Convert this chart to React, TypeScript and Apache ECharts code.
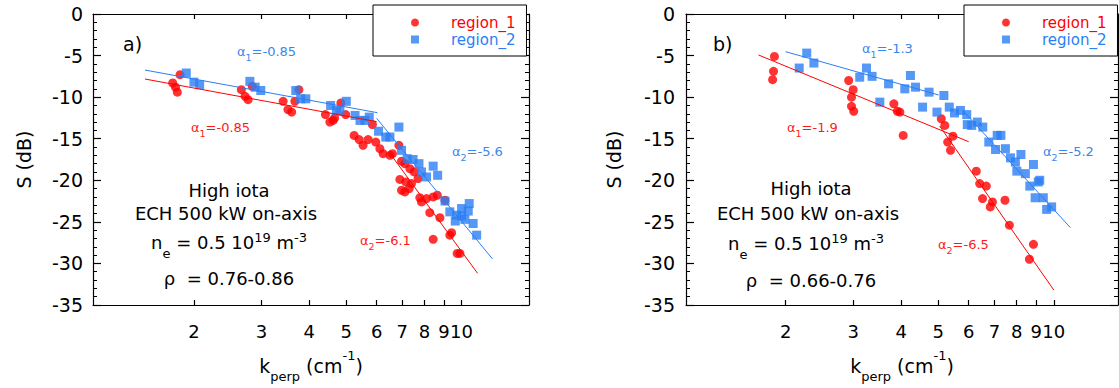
import React, { useEffect, useRef } from 'react';
import * as echarts from 'echarts';

const RED = '#ff0000';
const BLUE = '#2a7ef4';
const RED_TXT = '#ff1a1a';
const BLUE_TXT = '#3a86f0';
const FONT = 'DejaVu Sans';

// axis ticks / ranges
const kTicks = [2, 3, 4, 5, 6, 7, 8, 9, 10];
const kRangeA = [1.09, 15];
const kRangeB = [1.1, 14.7];
const sMin = -35;
const sMax = 0;
const sStep = 5;

// panel a) data: [k_perp (cm^-1), S (dB)]
const region1A = [
  [1.76, -8.3], [1.79, -8.8], [1.81, -9.4], [1.84, -7.3],
  [2.66, -9.1], [2.72, -9.9], [2.77, -10.3], [2.84, -8.7],
  [3.42, -10.5], [3.52, -11.5], [3.6, -11.8], [3.67, -10.5], [3.76, -9.1],
  [4.41, -12.1], [4.53, -13.0], [4.62, -12.8], [4.66, -12.5], [4.84, -10.7], [4.98, -12.1],
  [5.24, -14.6], [5.4, -15.1], [5.53, -15.8], [5.7, -15.1], [5.85, -13.3], [5.97, -15.4],
  [6.12, -16.2], [6.24, -16.8], [6.5, -17.0], [6.6, -16.8], [6.86, -15.8], [6.97, -17.7], [7.11, -18.0],
  [7.33, -18.6], [7.52, -19.0], [7.7, -19.8], [6.9, -19.9], [7.15, -20.2], [7.3, -21.0], [6.97, -21.2],
  [7.11, -21.4], [7.4, -20.4], [7.78, -22.1], [7.86, -22.6], [8.1, -22.2], [8.43, -22.0], [8.64, -21.8],
  [9.05, -22.4], [8.26, -23.9], [8.78, -24.5], [8.43, -27.1], [9.32, -26.6], [9.42, -26.3],
  [9.74, -28.8], [9.9, -28.8],
];
const region2A = [
  [1.91, -7.1], [2.0, -8.2], [2.07, -8.5],
  [2.8, -8.1], [2.89, -8.8], [2.99, -9.2],
  [3.69, -9.2], [3.8, -10.2], [3.92, -10.2],
  [4.55, -11.0], [4.71, -11.6], [4.81, -11.7], [5.0, -10.5],
  [5.27, -12.2], [5.43, -12.8], [5.59, -12.8], [5.74, -12.4],
  [6.07, -14.1], [6.34, -14.8], [6.5, -14.8], [6.86, -13.6],
  [6.97, -16.4], [7.21, -17.4], [7.47, -17.5], [7.74, -18.0], [7.86, -19.0], [8.43, -18.3],
  [8.1, -19.6], [8.66, -19.4],
  [9.05, -22.5], [9.32, -23.8], [9.71, -24.2], [9.63, -24.9], [10.0, -24.3], [10.0, -23.4],
  [10.2, -24.7], [10.47, -22.8], [10.41, -23.7], [10.72, -25.2], [10.95, -26.6],
];
const fitRed1A = [[1.49, -7.82], [6.0, -12.95]];
const fitRed2A = [[6.5, -16.76], [11.01, -31.19]];
const fitBlue1A = [[1.49, -6.74], [6.03, -11.87]];
const fitBlue2A = [[6.0, -12.55], [12.05, -29.47]];

// panel b) data
const region1B = [
  [1.87, -5.1], [1.86, -6.9], [1.85, -7.9],
  [2.92, -8.0], [3.0, -9.1], [2.97, -10.0], [2.97, -11.1], [3.01, -11.7],
  [3.83, -10.8], [3.91, -11.7], [3.97, -11.8], [4.05, -14.6],
  [5.09, -12.6], [5.2, -13.4], [5.46, -14.7], [5.29, -15.4], [5.38, -16.4],
  [6.28, -18.9], [6.41, -20.4], [6.67, -20.7], [6.52, -22.2], [6.83, -23.2], [6.92, -22.6],
  [7.46, -22.4], [7.66, -25.4], [8.85, -27.7], [8.64, -29.5],
];
const region2B = [
  [2.27, -4.7], [2.17, -6.5], [2.37, -5.9],
  [3.12, -7.6], [3.25, -6.5], [3.36, -7.5], [3.52, -10.6], [3.71, -8.4],
  [4.09, -9.0], [4.23, -7.4], [4.36, -8.8], [4.55, -11.2], [4.73, -9.4],
  [5.17, -9.8], [4.96, -11.8], [5.34, -11.2], [5.51, -11.9], [5.71, -11.6], [5.93, -12.1],
  [5.95, -13.3], [6.11, -13.4], [6.32, -13.0], [6.53, -13.6], [6.77, -15.4], [7.05, -16.3],
  [7.12, -14.6], [7.28, -14.6], [7.48, -16.2], [7.71, -17.3], [8.21, -16.9], [7.94, -17.8],
  [8.01, -18.9], [8.43, -19.2], [8.85, -18.1], [8.66, -20.7], [9.11, -20.2], [9.19, -20.0],
  [8.94, -22.1], [9.39, -22.1], [9.58, -23.5], [9.87, -23.2],
];
const fitRed1B = [[1.7, -4.93], [6.0, -15.36]];
const fitRed2B = [[5.04, -13.47], [10.0, -33.2]];
const fitBlue1B = [[2.0, -4.53], [5.01, -9.74]];
const fitBlue2B = [[5.83, -11.75], [11.05, -25.7]];

// text
const alphaA = ['-0.85', '-0.85', '-5.6', '-6.1'];
const alphaB = ['-1.3', '-1.9', '-5.2', '-6.5'];
const rhoA = '0.76-0.86';
const rhoB = '0.66-0.76';

const lg = (v: number) => Math.log10(v);
const toXY = (pts: number[][]) => pts.map(([k, s]) => [lg(k), s]);

const axisLineStyle = { color: '#000', width: 1.2 };

function xAxes(gridIndex: number, range: number[]) {
  const tickVals = kTicks.map(lg);
  const base = {
    gridIndex,
    type: 'value',
    min: lg(range[0]),
    max: lg(range[1]),
    splitLine: { show: false },
    axisLine: { show: true, onZero: false, lineStyle: axisLineStyle },
    axisTick: { show: true, inside: true, length: 5, customValues: tickVals, lineStyle: axisLineStyle },
  };
  return [
    {
      ...base,
      position: 'bottom',
      axisLabel: {
        customValues: tickVals,
        formatter: (v: number) => String(Math.round(Math.pow(10, v))),
        margin: 17,
        fontSize: 18,
        fontFamily: FONT,
        color: '#000',
      },
      name: '{m|k}{s|perp}{m| (cm}{p|-1}{m|)}',
      nameLocation: 'middle',
      nameGap: 44,
      nameTextStyle: {
        color: '#000',
        fontFamily: FONT,
        rich: {
          m: { fontSize: 19, lineHeight: 34, fontFamily: FONT, color: '#000' },
          s: { fontSize: 13, lineHeight: 13, verticalAlign: 'bottom', fontFamily: FONT, color: '#000' },
          p: { fontSize: 13, lineHeight: 24, verticalAlign: 'top', fontFamily: FONT, color: '#000' },
        },
      },
    },
    { ...base, position: 'top', axisLabel: { show: false } },
  ];
}

function yAxes(gridIndex: number, labelMargin: number, nameGap: number) {
  const base = {
    gridIndex,
    type: 'value',
    min: sMin,
    max: sMax,
    interval: sStep,
    splitLine: { show: false },
    axisLine: { show: true, onZero: false, lineStyle: axisLineStyle },
    axisTick: { show: true, inside: true, length: 8, lineStyle: axisLineStyle },
    minorTick: { show: true, splitNumber: 5, length: 4, lineStyle: { color: '#000', width: 1 } },
  };
  return [
    {
      ...base,
      position: 'left',
      axisLabel: { margin: labelMargin, fontSize: 19, fontFamily: FONT, color: '#000' },
      name: 'S (dB)',
      nameLocation: 'middle',
      nameGap,
      nameTextStyle: { fontSize: 19, fontFamily: FONT, color: '#000' },
    },
    { ...base, position: 'right', axisLabel: { show: false } },
  ];
}

function panelSeries(axisIndex: number, r1: number[][], r2: number[][], fits: [number[][], string][]) {
  const out: any[] = [
    {
      name: 'region_1',
      type: 'scatter',
      xAxisIndex: axisIndex,
      yAxisIndex: axisIndex,
      symbol: 'circle',
      symbolSize: 9,
      itemStyle: { color: RED },
      data: toXY(r1),
      z: 2,
    },
    {
      name: 'region_2',
      type: 'scatter',
      xAxisIndex: axisIndex,
      yAxisIndex: axisIndex,
      symbol: 'rect',
      symbolSize: 9,
      itemStyle: { color: BLUE },
      data: toXY(r2),
      z: 2,
    },
  ];
  fits.forEach(([pts, color]) => {
    out.push({
      type: 'line',
      xAxisIndex: axisIndex,
      yAxisIndex: axisIndex,
      symbol: 'none',
      showSymbol: false,
      silent: true,
      lineStyle: { color, width: 1 },
      data: toXY(pts),
      z: 3,
    });
  });
  return out;
}

function legendBox(left: number) {
  return {
    left,
    top: 5,
    orient: 'vertical',
    padding: [9, 11, 8, 38],
    itemGap: 0,
    itemWidth: 8,
    itemHeight: 8,
    backgroundColor: '#fff',
    borderColor: '#000',
    borderWidth: 1,
    z: 10,
    selectedMode: false,
    textStyle: { fontFamily: FONT, fontSize: 15, lineHeight: 17, padding: [0, 0, 0, 27] },
    data: [
      { name: 'region_1', textStyle: { color: RED, fontFamily: FONT, fontSize: 15, lineHeight: 17, padding: [0, 0, 0, 27] } },
      { name: 'region_2', textStyle: { color: BLUE, fontFamily: FONT, fontSize: 15, lineHeight: 17, padding: [0, 0, 0, 27] } },
    ],
  };
}

const alphaRich = {
  a: { fontSize: 13, lineHeight: 22, fontFamily: FONT },
  s: { fontSize: 9.5, lineHeight: 9.5, verticalAlign: 'bottom', fontFamily: FONT },
};
const blockRich = {
  t: { fontSize: 18, lineHeight: 30, fontFamily: FONT },
  sb: { fontSize: 13, padding: [22, 0, 0, 0], fontFamily: FONT },
  sp: { fontSize: 13, padding: [0, 0, 9, 0], fontFamily: FONT },
};

function txt(x: number, y: number, text: string, fill: string, opts: any = {}) {
  return {
    type: 'text',
    x,
    y,
    z: 100,
    silent: true,
    style: {
      text,
      fill,
      fontFamily: FONT,
      fontSize: opts.fontSize || 18,
      align: opts.align || 'left',
      verticalAlign: 'middle',
      rich: opts.rich,
    },
  };
}

function alphaLabel(x: number, y: number, idx: number, value: string, fill: string) {
  return txt(x, y, `{a|α}{s|${idx}}{a|=${value}}`, fill, { rich: alphaRich });
}

function infoBlock(cx: number[], cy: number[], rho: string) {
  return [
    txt(cx[0], cy[0], 'High iota', '#000', { align: 'center', fontSize: 18 }),
    txt(cx[1], cy[1], 'ECH 500 kW on-axis', '#000', { align: 'center', fontSize: 18 }),
    txt(cx[2], cy[2], '{t|n}{sb|e}{t| = 0.5 10}{sp|19}{t| m}{sp|-3}', '#000', { align: 'center', rich: blockRich }),
    txt(cx[3], cy[3], `ρ  = ${rho}`, '#000', { align: 'center', fontSize: 18 }),
  ];
}

export default function App() {
  const ref = useRef<HTMLDivElement>(null);
  useEffect(() => {
    if (!ref.current) return;
    const chart = echarts.init(ref.current, undefined, { renderer: 'svg' });
    const option: any = {
      animation: false,
      backgroundColor: '#fff',
      textStyle: { fontFamily: FONT },
      grid: [
        { left: 93, top: 14, width: 436, height: 291 },
        { left: 686, top: 14, width: 432, height: 291 },
      ],
      xAxis: [...xAxes(0, kRangeA), ...xAxes(1, kRangeB)],
      yAxis: [...yAxes(0, 10, 60), ...yAxes(1, 11, 63)],
      legend: [legendBox(373), legendBox(964)],
      series: [
        ...panelSeries(0, region1A, region2A, [
          [fitBlue1A, BLUE], [fitBlue2A, BLUE], [fitRed1A, RED], [fitRed2A, RED],
        ]),
        ...panelSeries(2, region1B, region2B, [
          [fitBlue1B, BLUE], [fitBlue2B, BLUE], [fitRed1B, RED], [fitRed2B, RED],
        ]),
      ],
      graphic: [
        txt(123, 44, 'a)', '#000', { fontSize: 19 }),
        alphaLabel(237, 51, 1, alphaA[0], BLUE_TXT),
        alphaLabel(191, 127, 1, alphaA[1], RED_TXT),
        alphaLabel(452, 151, 2, alphaA[2], BLUE_TXT),
        alphaLabel(360, 240, 2, alphaA[3], RED_TXT),
        ...infoBlock([229, 226, 229, 229], [190, 213, 242, 278], rhoA),
        txt(713, 44, 'b)', '#000', { fontSize: 19 }),
        alphaLabel(862, 48, 1, alphaB[0], BLUE_TXT),
        alphaLabel(787, 127, 1, alphaB[1], RED_TXT),
        alphaLabel(1043, 151, 2, alphaB[2], BLUE_TXT),
        alphaLabel(938, 244, 2, alphaB[3], RED_TXT),
        ...infoBlock([811, 808, 806, 811], [188, 213, 243, 280], rhoB),
      ],
    };
    chart.setOption(option);
    return () => chart.dispose();
  }, []);
  return (
    <div
      ref={ref}
      style={{ position: 'fixed', left: 0, top: 0, width: 1119, height: 388, background: '#fff' }}
    />
  );
}
